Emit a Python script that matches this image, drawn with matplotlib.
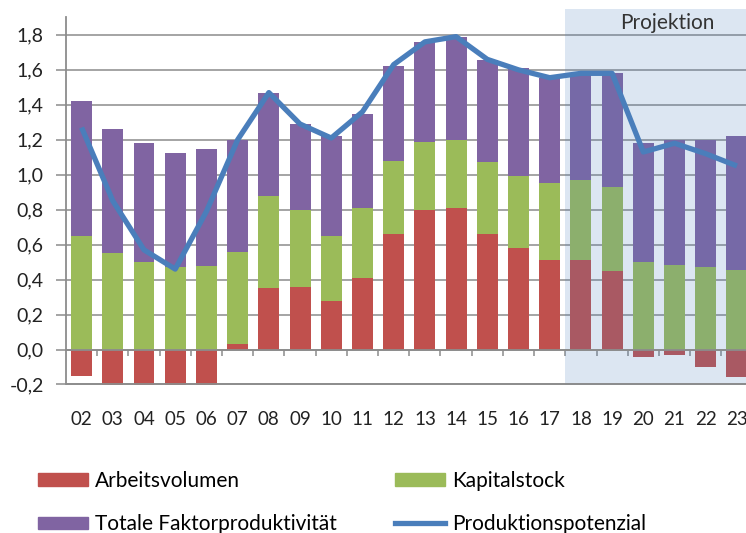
import matplotlib
matplotlib.use("Agg")
import matplotlib.pyplot as plt
from matplotlib.patches import Patch
from matplotlib.lines import Line2D
import numpy as np

plt.rcParams['font.family'] = ['Lato', 'DejaVu Sans']

years = ["02", "03", "04", "05", "06", "07", "08", "09", "10", "11", "12",
         "13", "14", "15", "16", "17", "18", "19", "20", "21", "22", "23"]
arbeit = [-0.15, -0.25, -0.25, -0.25, -0.25, 0.03, 0.35, 0.36, 0.28, 0.41, 0.66,
          0.80, 0.81, 0.66, 0.58, 0.51, 0.51, 0.45, -0.04, -0.03, -0.10, -0.16]
kapital = [0.65, 0.55, 0.50, 0.47, 0.48, 0.53, 0.53, 0.44, 0.37, 0.40, 0.42,
           0.39, 0.39, 0.41, 0.41, 0.44, 0.46, 0.48, 0.50, 0.485, 0.47, 0.455]
tfp = [0.77, 0.71, 0.68, 0.655, 0.665, 0.64, 0.59, 0.49, 0.57, 0.54, 0.54,
       0.57, 0.59, 0.585, 0.62, 0.605, 0.61, 0.65, 0.68, 0.715, 0.73, 0.765]
potenzial = [1.27, 0.85, 0.57, 0.46, 0.79, 1.20, 1.47, 1.29, 1.21, 1.36, 1.63,
             1.76, 1.79, 1.66, 1.60, 1.555, 1.58, 1.58, 1.13, 1.18, 1.12, 1.05]
projektion_start = "18"

RED = "#C0504D"
GREEN = "#9BBB59"
PURPLE = "#8064A2"
BLUE = "#4A7EBB"
GRID = "#8C8C8C"

x = np.arange(len(years))
arbeit = np.array(arbeit)
kapital = np.array(kapital)
tfp = np.array(tfp)
base_k = np.clip(arbeit, 0, None)
base_t = base_k + kapital

fig = plt.figure(figsize=(7.46, 5.33), dpi=100)
ax = fig.add_axes([66 / 746, 1 - 385 / 533, 1 - 66 / 746, (385 - 9) / 533])

w = 0.67
ax.bar(x, arbeit, w, color=RED, zorder=2)
ax.bar(x, kapital, w, bottom=base_k, color=GREEN, zorder=2)
ax.bar(x, tfp, w, bottom=base_t, color=PURPLE, zorder=2)

# projection shading
p0 = years.index(projektion_start) - 0.5
ax.axvspan(p0, len(years) + 1, color="#5082BE", alpha=0.2, lw=0, zorder=2.5)
ax.text(18.76, 1.87, "Projektion", ha="center", va="center",
        fontsize=15, color="#333333", zorder=6)

ax.plot(x, potenzial, color=BLUE, lw=3.8, solid_capstyle="butt",
        solid_joinstyle="round", zorder=4)

ax.set_xlim(-0.5, 21.29)
ax.set_ylim(-0.203, 1.948)

yt = np.round(np.arange(-0.2, 1.81, 0.2), 1)
ax.set_yticks(yt)
ax.set_yticklabels([f"{v:.1f}".replace(".", ",") for v in yt])
ax.grid(axis="y", color=GRID, lw=1.1, zorder=1)
ax.set_axisbelow(True)
ax.axhline(-0.2, color=GRID, lw=1.3, zorder=5)

ax.set_xticks(x)
ax.set_xticklabels(years)
ax.set_xticks(np.arange(0.5, len(years) - 0.5, 1), minor=True)
ax.tick_params(axis="x", which="major", length=0, pad=44, labelsize=13.5,
               colors="#222222")
ax.tick_params(axis="x", which="minor", length=4, width=1.1, color=GRID,
               direction="out")
ax.tick_params(axis="y", length=7, width=1.1, color=GRID, pad=9,
               labelsize=14, labelcolor="#222222")

for s in ["top", "right"]:
    ax.spines[s].set_visible(False)
ax.spines["bottom"].set_position(("data", 0))
ax.spines["bottom"].set_color(GRID)
ax.spines["bottom"].set_linewidth(1.3)
ax.spines["bottom"].set_zorder(5)
ax.spines["left"].set_color(GRID)
ax.spines["left"].set_linewidth(1.3)
ax.spines["left"].set_bounds(-0.2, 1.90)

handles = [Patch(color=RED), Patch(color=PURPLE),
           Patch(color=GREEN), Line2D([], [], color=BLUE, lw=3.8)]
labels = ["Arbeitsvolumen", "Totale Faktorproduktivität",
          "Kapitalstock", "Produktionspotenzial"]
fig.legend(handles, labels, ncol=2, loc="upper left",
           bbox_to_anchor=(38 / 746, 1 - 471 / 533), frameon=False,
           fontsize=15, handlelength=2.4, handleheight=0.58,
           handletextpad=0.34, columnspacing=2.8, labelspacing=1.12,
           borderpad=0, borderaxespad=0)

fig.savefig("out.png", dpi=100)
